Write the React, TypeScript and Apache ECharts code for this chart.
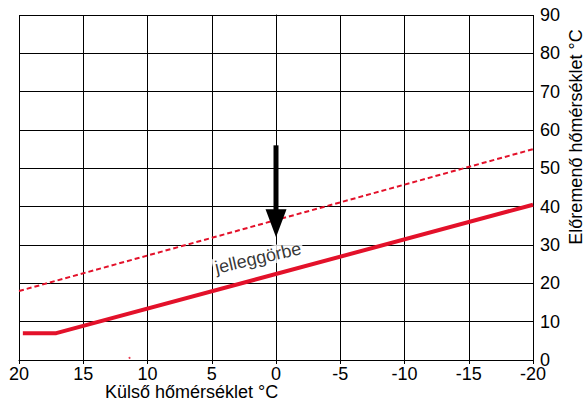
import React, { useEffect, useRef } from "react";
import * as echarts from "echarts";

// Outside temperature (x) vs. flow temperature (y)
const xTicks = [20, 15, 10, 5, 0, -5, -10, -15, -20];
const yTicks = [0, 10, 20, 30, 40, 50, 60, 70, 80, 90];
const heatingCurve: [number, number][] = [
  [19.7, 7],
  [17.1, 7],
  [-20, 40.5],
];
const dashedCurve: [number, number][] = [
  [20, 18],
  [-20, 55],
];
const arrowData: [number, number, number][] = [[0, 56, 32]];
const curveLabel: [number, number][] = [[1.4, 26.6]];
const strayDot: [number, number][] = [[11.4, 0.55]];
const xName = "Külső hőmérséklet °C";
const yName = "Előremenő hőmérséklet °C";
const curveName = "jelleggörbe";

const FONT = "'Liberation Sans', Arial, sans-serif";
const RED = "#e3112a";

export default function App() {
  const ref = useRef<HTMLDivElement>(null);
  useEffect(() => {
    if (!ref.current) return;
    const chart = echarts.init(ref.current, null, { renderer: "svg" });
    chart.setOption({
      animation: false,
      backgroundColor: "#fff",
      grid: { left: 19, right: 51, top: 15, bottom: 40 },
      xAxis: {
        type: "value",
        min: -20,
        max: 20,
        interval: 5,
        inverse: true,
        axisLine: { show: true, lineStyle: { color: "#000", width: 1 } },
        axisTick: { show: true, length: 4, lineStyle: { color: "#000" } },
        axisLabel: {
          color: "#000",
          fontSize: 18,
          fontFamily: FONT,
          margin: 5,
          formatter: (v: number) => (xTicks.includes(v) ? String(v) : ""),
        },
        splitLine: { show: true, lineStyle: { color: "#000", width: 1 } },
      },
      yAxis: {
        type: "value",
        position: "right",
        min: 0,
        max: 90,
        interval: 10,
        axisLine: { show: true, lineStyle: { color: "#000", width: 1 } },
        axisTick: { show: true, length: 4, lineStyle: { color: "#000" } },
        axisLabel: {
          color: "#000",
          fontSize: 18,
          fontFamily: FONT,
          margin: 7,
          formatter: (v: number) => (yTicks.includes(v) ? String(v) : ""),
        },
        splitLine: { show: true, lineStyle: { color: "#000", width: 1 } },
      },
      series: [
        {
          type: "line",
          data: dashedCurve,
          symbol: "none",
          lineStyle: { color: RED, width: 2, type: [5, 3] },
          z: 3,
        },
        {
          type: "line",
          data: heatingCurve,
          symbol: "none",
          lineStyle: { color: RED, width: 4 },
          z: 4,
        },
        {
          type: "scatter",
          data: strayDot,
          symbolSize: 2,
          itemStyle: { color: RED },
        },
        {
          type: "scatter",
          data: curveLabel,
          symbolSize: 0,
          label: {
            show: true,
            position: "inside",
            formatter: curveName,
            rotate: 13,
            color: "#000",
            fontSize: 18,
            fontFamily: FONT,
            backgroundColor: "#fff",
            padding: [0, 2],
          },
          z: 5,
        },
        {
          type: "custom",
          data: arrowData,
          encode: { x: 0, y: [1, 2] },
          z: 6,
          renderItem: (params: any, api: any) => {
            const top = api.coord([api.value(0), api.value(1)]);
            const tip = api.coord([api.value(0), api.value(2)]);
            const headLen = 28;
            const headW = 21;
            const shaftW = 5;
            return {
              type: "group",
              children: [
                {
                  type: "rect",
                  shape: {
                    x: top[0] - shaftW / 2,
                    y: top[1],
                    width: shaftW,
                    height: tip[1] - headLen - top[1] + 1,
                  },
                  style: { fill: "#000" },
                },
                {
                  type: "polygon",
                  shape: {
                    points: [
                      [tip[0] - headW / 2, tip[1] - headLen],
                      [tip[0] + headW / 2, tip[1] - headLen],
                      [tip[0], tip[1]],
                    ],
                  },
                  style: { fill: "#000" },
                },
              ],
            };
          },
        },
      ],
      graphic: [
        {
          type: "text",
          left: 105,
          top: 383,
          style: { text: xName, fill: "#000", font: `18px ${FONT}` },
        },
        {
          type: "text",
          x: 576,
          y: 137,
          rotation: Math.PI / 2,
          style: {
            text: yName,
            fill: "#000",
            font: `18px ${FONT}`,
            align: "center",
            verticalAlign: "middle",
          },
        },
      ],
    });
    return () => chart.dispose();
  }, []);
  return (
    <div
      ref={ref}
      style={{ width: 584, height: 400, position: "fixed", left: 0, top: 0 }}
    />
  );
}
